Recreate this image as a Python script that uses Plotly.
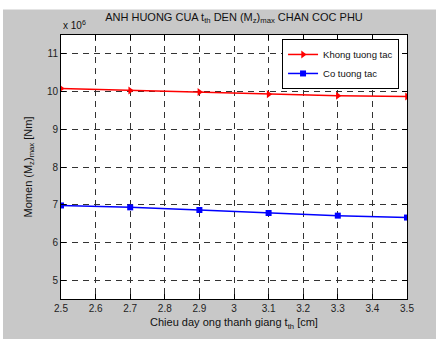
import plotly.graph_objects as go

t_th = [2.5, 2.7, 2.9, 3.1, 3.3, 3.5]
khong_tuong_tac = [10.08, 10.03, 9.99, 9.93, 9.89, 9.87]   # x 10^6 Nm
co_tuong_tac = [6.98, 6.93, 6.86, 6.78, 6.71, 6.66]        # x 10^6 Nm
x_ticks = [2.5, 2.6, 2.7, 2.8, 2.9, 3.0, 3.1, 3.2, 3.3, 3.4, 3.5]
x_ticklabels = ["2.5", "2.6", "2.7", "2.8", "2.9", "3", "3.1", "3.2", "3.3", "3.4", "3.5"]
y_ticks = [5, 6, 7, 8, 9, 10, 11]

FONT = "Liberation Sans, Arial, sans-serif"
GRAY = "#c8c8c8"

fig = go.Figure()
fig.add_trace(go.Scatter(
    x=t_th, y=khong_tuong_tac, mode="lines+markers", name="Khong tuong tac",
    line=dict(color="#ff0000", width=1.5),
    marker=dict(symbol="triangle-right", size=7, color="#ff0000"),
))
fig.add_trace(go.Scatter(
    x=t_th, y=co_tuong_tac, mode="lines+markers", name="Co tuong tac",
    line=dict(color="#0000ff", width=1.5),
    marker=dict(symbol="square", size=6, color="#0000ff"),
))

axis_common = dict(
    showline=True, linecolor="black", linewidth=1, mirror="ticks",
    ticks="inside", ticklen=5, tickcolor="black",
    showgrid=True, gridcolor="#333", gridwidth=1, griddash="6px,5px",
    zeroline=False, tickfont=dict(family=FONT, size=10, color="#222"),
)

fig.update_xaxes(range=[2.5, 3.5], tickvals=x_ticks, ticktext=x_ticklabels,
                 title=dict(text="Chieu day ong thanh giang t<sub>th</sub> [cm]",
                            font=dict(family=FONT, size=11, color="#111"), standoff=5),
                 **axis_common)
fig.update_yaxes(range=[4.5, 11.5], tickvals=y_ticks,
                 title=dict(text="Momen (M<sub>z</sub>)<sub>max</sub> [Nm]",
                            font=dict(family=FONT, size=11, color="#111"), standoff=12),
                 **axis_common)

fig.update_layout(
    width=436, height=339,
    margin=dict(l=61, r=29, t=35, b=34),
    paper_bgcolor=GRAY, plot_bgcolor="white",
    font=dict(family=FONT, size=11, color="#111"),
    title=dict(text="ANH HUONG CUA t<sub>th</sub> DEN (M<sub>z</sub>)<sub>max</sub> CHAN COC PHU",
               x=0.5, xref="paper", y=1 - 17 / 339, yanchor="middle",
               font=dict(family=FONT, size=11, color="#111")),
    showlegend=True,
    legend=dict(x=0.977, y=0.985, xanchor="right", yanchor="top",
                bgcolor="white", bordercolor="black", borderwidth=1,
                font=dict(family=FONT, size=9.5, color="#111"),
                tracegroupgap=0, itemwidth=30),
    annotations=[dict(text="x 10<sup>6</sup>", xref="paper", yref="paper",
                      x=0, y=1, xanchor="left", yanchor="bottom", yshift=2,
                      showarrow=False, font=dict(family=FONT, size=10, color="#111"))],
    shapes=[
        dict(type="rect", xref="paper", yref="paper", x0=-0.3, x1=1.2,
             y0=1 + 26 / 270, y1=1 + 40 / 270, fillcolor="white", line=dict(width=0), layer="above"),
        dict(type="rect", xref="paper", yref="paper", x0=-61 / 346, x1=-58 / 346,
             y0=-0.3, y1=1.3, fillcolor="white", line=dict(width=0), layer="above"),
    ],
)

fig.write_html("out.html")
